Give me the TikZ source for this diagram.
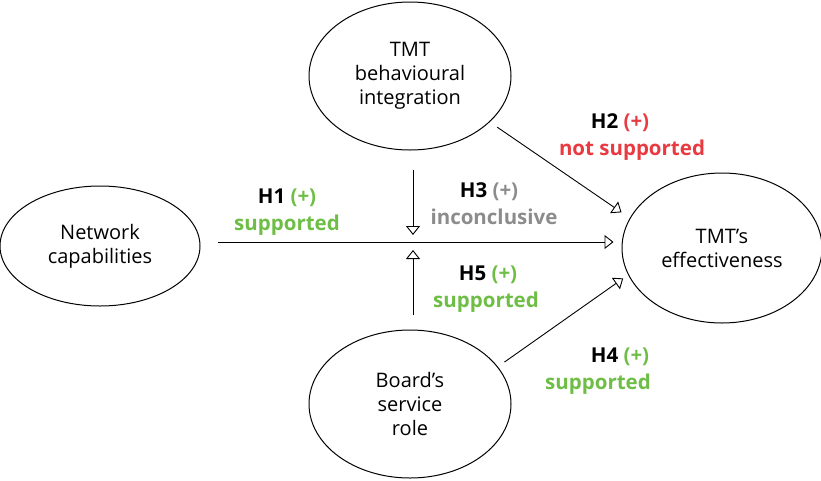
\documentclass[tikz,border=0pt]{standalone}
\usepackage{fontspec}
\setmainfont{Open Sans}
\usetikzlibrary{arrows.meta,shapes.geometric,calc}
\definecolor{supgreen}{RGB}{110,190,70}
\definecolor{notred}{RGB}{232,58,64}
\definecolor{incgray}{RGB}{140,140,140}
\tikzstyle{construct} = [ellipse, draw=black, line width=1pt,%
	minimum width=202pt, minimum height=148pt, inner sep=0pt,%
	align=center, font=\fontsize{20}{24}\selectfont]
\tikzstyle{hyp} = [-{Triangle[open,length=9pt,width=14pt]},%
	line width=0.9pt, black]
\tikzstyle{hlabel} = [anchor=base, inner sep=0pt,%
	font=\fontsize{20.5}{24}\selectfont\bfseries]

\begin{document}
\begin{tikzpicture}[x=1pt,y=-1pt]
		\useasboundingbox (0,0) rectangle (821,480);
		\node[construct, minimum width=200pt, minimum height=120pt] (net) at (100,246) {Network\\capabilities};
		\node[construct] (tmtbi) at (410,76) {TMT\\behavioural\\integration};
		\node[construct] (board) at (410,404) {Board's\\service\\role};
		\node[construct, minimum width=200pt, minimum height=150pt] (eff) at (722,248) {TMT's\\effectiveness};
		\coordinate (mod) at (413,242);
		\draw[hyp, shorten <=17pt, shorten >=8pt] ([yshift=4pt]net.east) -- ([yshift=4pt]net.east -| eff.west);
		\draw[hyp] ($(mod)+(0,-72)$) -- ($(mod)+(0,-7)$);
		\draw[hyp] ($(mod)+(0,73)$) -- ($(mod)+(0,8)$);
		\draw[hyp, shorten <=9pt, shorten >=10pt] (tmtbi.-30.4) -- (eff.162);
		\draw[hyp, shorten <=8pt, shorten >=6pt] (board.23.3) -- (eff.196.3);
		\node[hlabel] (h1a) at (287,203) {H1 \textcolor{supgreen}{(+)}};
		\node[hlabel, text=supgreen] (h1b) at (287,230) {supported};
		\node[hlabel] (h3a) at (489,197) {H3 \textcolor{incgray}{(+)}};
		\node[hlabel, text=incgray] (h3b) at (494,224) {inconclusive};
		\node[hlabel] (h5a) at (488,280) {H5 \textcolor{supgreen}{(+)}};
		\node[hlabel, text=supgreen] (h5b) at (486,307) {supported};
		\node[hlabel] (h2a) at (620,128) {H2 \textcolor{notred}{(+)}};
		\node[hlabel, text=notred] (h2b) at (632,155) {not supported};
		\node[hlabel] (h4a) at (620,362) {H4 \textcolor{supgreen}{(+)}};
		\node[hlabel, text=supgreen] (h4b) at (598,389) {supported};
	\end{tikzpicture}
\end{document}
